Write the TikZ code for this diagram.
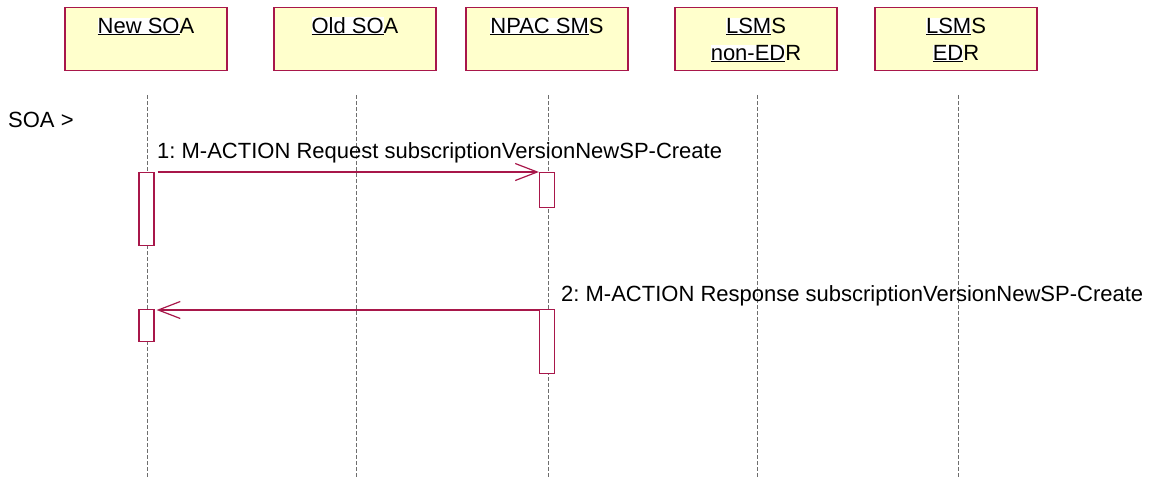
\documentclass[tikz,border=0pt]{standalone}
\usepackage{fontspec}
\setmainfont{Liberation Sans}
\usetikzlibrary{arrows.meta}
\definecolor{boxfill}{HTML}{FFFFCC}
\definecolor{crim}{HTML}{A8174A}
\definecolor{lifegray}{HTML}{6E6E6E}
\newcommand{\ulw}[1]{{\setlength{\fboxsep}{0pt}\colorbox{white}{\underline{#1}}}}
\frenchspacing
\begin{document}
\begin{tikzpicture}[x=1pt,y=-1pt,
  every node/.style={font=\fontsize{22}{27}\selectfont, inner sep=0pt},
  head/.style={draw=crim, fill=boxfill, line width=1.2pt, minimum width=162pt, minimum height=63pt, anchor=north},
  lifeline/.style={draw=lifegray, line width=1pt, dash pattern=on 4pt off 2pt},
  act/.style={draw=crim, fill=white, line width=1.2pt, minimum width=15pt, anchor=north},
  msg/.style={draw=crim, line width=1.2pt, -{Straight Barb[length=22pt,width=17pt,line width=1.2pt]}},
  lbl/.style={anchor=base west},
  htxt/.style={anchor=base}]
\useasboundingbox (0,0) rectangle (1153,477);

% heads
\node[head] (h1) at (146,7) {};
\node[head] (h2) at (355,7) {};
\node[head] (h3) at (547,7) {};
\node[head] (h4) at (756,7) {};
\node[head] (h5) at (956,7) {};

\node[htxt] (t1) at (146,33) {\ulw{New SO}A};
\node[htxt] (t2) at (355,33) {\ulw{Old SO}A};
\node[htxt] (t3) at (547,33) {\ulw{NPAC SM}S};
\node[htxt] (t4a) at (756,33) {\ulw{LSM}S};
\node[htxt] (t4b) at (756,60) {\ulw{non-ED}R};
\node[htxt] (t5a) at (956,33) {\ulw{LSM}S};
\node[htxt] (t5b) at (956,60) {\ulw{ED}R};

% lifelines
\coordinate (l1t) at (147.5,95); \coordinate (l1b) at (147.5,477);
\coordinate (l2t) at (356.5,95); \coordinate (l2b) at (356.5,477);
\coordinate (l3t) at (548,95);   \coordinate (l3b) at (548,477);
\coordinate (l4t) at (757,95);   \coordinate (l4b) at (757,477);
\coordinate (l5t) at (958,95);   \coordinate (l5b) at (958,477);
\draw[lifeline] (l1t) -- (l1b);
\draw[lifeline] (l2t) -- (l2b);
\draw[lifeline] (l3t) -- (l3b);
\draw[lifeline] (l4t) -- (l4b);
\draw[lifeline] (l5t) -- (l5b);

% activations
\node[act, minimum height=73pt] (a1) at (146.5,172) {};
\node[act, minimum height=35pt] (a2) at (547,172) {};
\node[act, minimum height=32pt] (a3) at (146.5,309) {};
\node[act, minimum height=64pt] (a4) at (547,309) {};

% messages
\draw[msg] ([xshift=3pt]a1.north east) -- (a2.north west);
\draw[msg] ([yshift=-1pt]a4.north west) -- ([xshift=2pt,yshift=-1pt]a3.north east);

% labels
\node[lbl] (soa) at (8,127) {SOA >};
\node[lbl] (m1) at (157,158) {1: M-ACTION Request subscriptionVersionNewSP-Create};
\node[lbl] (m2) at (561,301) {2: M-ACTION Response subscriptionVersionNewSP-Create};
\end{tikzpicture}
\end{document}
